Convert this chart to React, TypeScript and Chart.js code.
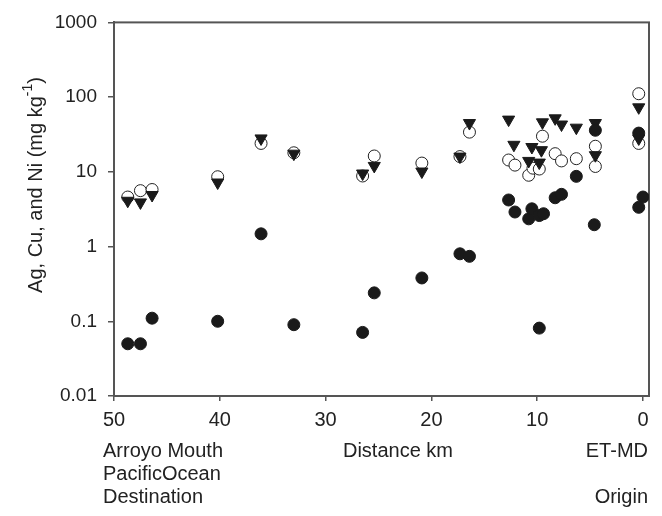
import React, { useEffect, useRef } from "react";
import { Chart, registerables } from "chart.js";
Chart.register(...registerables);

// Filled circles
const agDist = [48.7, 47.5, 46.4, 40.2, 36.1, 33.0, 26.5, 25.4, 20.9, 17.3, 16.4, 12.7, 12.1, 10.8, 10.5, 9.8, 9.4, 9.8, 8.3, 7.7, 6.3, 4.5, 4.6, 0.4, 0.0, 0.4];
const agVal = [0.05, 0.05, 0.11, 0.1, 1.48, 0.09, 0.071, 0.24, 0.38, 0.8, 0.74, 4.2, 2.9, 2.35, 3.2, 2.6, 2.75, 0.081, 4.5, 5.0, 8.7, 36, 1.96, 33, 4.6, 3.35];
// Filled down-triangles
const cuDist = [48.7, 47.5, 46.4, 40.2, 36.1, 33.0, 26.5, 25.4, 20.9, 17.3, 16.4, 12.7, 12.2, 10.8, 10.5, 9.8, 9.6, 9.5, 8.3, 7.7, 6.3, 4.5, 4.5, 0.4, 0.4];
const cuVal = [4.1, 3.9, 4.9, 7.2, 28, 17.5, 9.5, 12, 10.1, 16, 45, 50, 23, 14, 21.5, 13.3, 19.5, 46, 52, 43, 39, 45, 16.7, 28, 73];
// Open circles
const niDist = [48.7, 47.5, 46.4, 40.2, 36.1, 33.0, 26.5, 25.4, 20.9, 17.3, 16.4, 12.7, 12.1, 10.8, 10.4, 9.8, 9.5, 8.3, 7.7, 6.3, 4.5, 4.5, 0.4, 0.4];
const niVal = [4.6, 5.6, 5.8, 8.6, 24, 18, 8.8, 16.3, 13.1, 16, 34, 14.4, 12.3, 9.0, 11.2, 10.9, 30, 17.5, 14, 15, 22, 11.8, 24, 111];

const xTicks = [0, 10, 20, 30, 40, 50];
const yTicks = [0.01, 0.1, 1, 10, 100, 1000];

const FONT = "'Liberation Sans', Arial, sans-serif";
const FS = 20;
const FSY = 19;

const pts = (xs: number[], ys: number[]) => xs.map((x, i) => ({ x, y: ys[i] }));

const framePlugin = {
  id: "frame",
  beforeDatasetsDraw(chart: any) {
    const { ctx, chartArea: a } = chart;
    ctx.save();
    ctx.strokeStyle = "#555";
    ctx.lineWidth = 2;
    ctx.strokeRect(a.left, a.top, a.right - a.left, a.bottom - a.top);
    ctx.restore();
  },
  afterDraw(chart: any) {
    const { ctx } = chart;
    ctx.save();
    ctx.fillStyle = "#222";
    const main = "Ag, Cu, and Ni (mg kg";
    const sup = "-1";
    const tail = ")";
    const supSize = Math.round(FS * 0.72);
    ctx.font = `${FS}px ${FONT}`;
    const w1 = ctx.measureText(main).width;
    const w3 = ctx.measureText(tail).width;
    ctx.font = `${supSize}px ${FONT}`;
    const w2 = ctx.measureText(sup).width;
    const total = w1 + w2 + w3;
    ctx.translate(36, 185);
    ctx.rotate(-Math.PI / 2);
    ctx.textBaseline = "middle";
    ctx.textAlign = "left";
    let x = -total / 2;
    ctx.font = `${FS}px ${FONT}`;
    ctx.fillText(main, x, 0);
    x += w1;
    ctx.font = `${supSize}px ${FONT}`;
    ctx.fillText(sup, x, -8);
    x += w2;
    ctx.font = `${FS}px ${FONT}`;
    ctx.fillText(tail, x, 0);
    ctx.restore();

    ctx.save();
    ctx.fillStyle = "#222";
    ctx.font = `${FS}px ${FONT}`;
    ctx.textBaseline = "middle";
    ctx.textAlign = "left";
    ctx.fillText("Arroyo Mouth", 103, 451);
    ctx.fillText("PacificOcean", 103, 474);
    ctx.fillText("Destination", 103, 497);
    ctx.textAlign = "center";
    ctx.fillText("Distance km", 398, 451);
    ctx.textAlign = "right";
    ctx.fillText("ET-MD", 648, 451);
    ctx.fillText("Origin", 648, 497);
    ctx.restore();
  },
};

export default function App() {
  const ref = useRef<HTMLCanvasElement>(null);
  useEffect(() => {
    if (!ref.current) return;
    const chart = new Chart(ref.current, {
      type: "scatter",
      data: {
        datasets: [
          {
            label: "Ag",
            data: pts(agDist, agVal),
            pointStyle: "circle",
            pointRadius: 6,
            backgroundColor: "#1a1a1a",
            borderColor: "#1a1a1a",
            borderWidth: 1,
          },
          {
            label: "Cu",
            data: pts(cuDist, cuVal),
            pointStyle: "triangle",
            pointRotation: 180,
            pointRadius: 7,
            backgroundColor: "#1a1a1a",
            borderColor: "#1a1a1a",
            borderWidth: 1,
          },
          {
            label: "Ni",
            data: pts(niDist, niVal),
            pointStyle: "circle",
            pointRadius: 6,
            backgroundColor: "#ffffff",
            borderColor: "#222",
            borderWidth: 1,
          },
        ],
      },
      options: {
        animation: false,
        responsive: true,
        maintainAspectRatio: false,
        layout: { padding: { top: 21, right: 13, left: 0, bottom: 0 } },
        plugins: { legend: { display: false }, tooltip: { enabled: false } },
        scales: {
          x: {
            type: "linear",
            reverse: true,
            min: -0.57,
            max: 50,
            afterBuildTicks: (s: any) => {
              s.ticks = xTicks.map((v) => ({ value: v }));
            },
            afterFit: (s: any) => {
              s.height = 120;
            },
            grid: { drawOnChartArea: false, drawTicks: true, tickLength: 5, color: "#555", lineWidth: 1.5 },
            border: { display: true, color: "#555", width: 2 },
            ticks: { color: "#222", font: { family: FONT, size: FS }, padding: 7, maxRotation: 0, autoSkip: false },
          },
          y: {
            type: "logarithmic",
            min: 0.01,
            max: 1000,
            afterBuildTicks: (s: any) => {
              s.ticks = yTicks.map((v) => ({ value: v }));
            },
            afterFit: (s: any) => {
              s.width = 114;
            },
            grid: { drawOnChartArea: false, drawTicks: true, tickLength: 6, color: "#555", lineWidth: 1.5 },
            border: { display: true, color: "#555", width: 2 },
            ticks: {
              color: "#222",
              font: { family: FONT, size: FSY },
              padding: 11,
              autoSkip: false,
              callback: (v: any) => String(v),
            },
          },
        },
      },
      plugins: [framePlugin],
    } as any);
    return () => chart.destroy();
  }, []);
  return (
    <div style={{ position: "absolute", left: 0, top: 0, width: 662, height: 516, background: "#fff" }}>
      <canvas ref={ref} />
    </div>
  );
}
